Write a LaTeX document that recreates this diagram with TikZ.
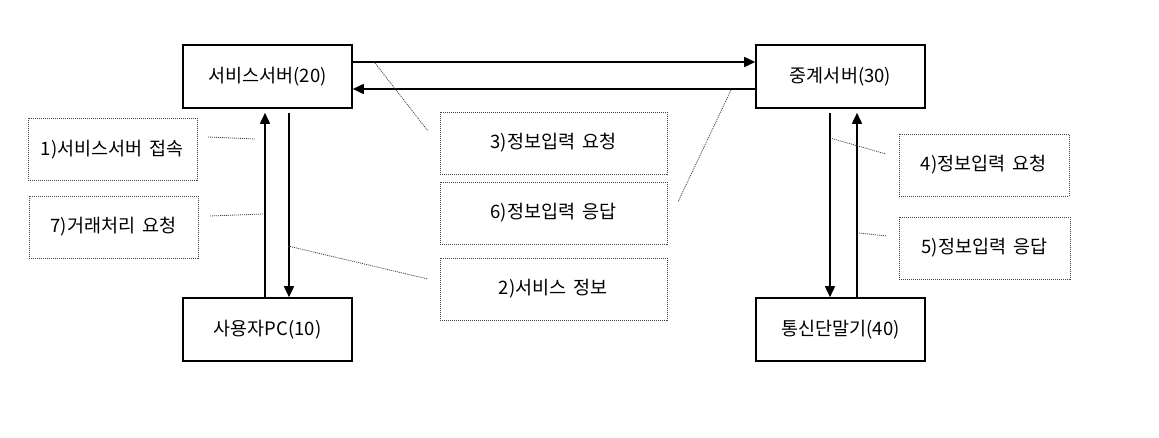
\documentclass[tikz,border=0pt]{standalone}
\usepackage{fontspec}
\setmainfont{Noto Sans CJK KR}
\usetikzlibrary{arrows.meta}
\newcommand{\gap}{\hspace{0.4em}}
\begin{document}
\begin{tikzpicture}[x=1pt,y=-1pt,
  mainbox/.style={draw=black,line width=1.6pt,minimum width=169pt,minimum height=63pt,inner sep=0pt,font=\fontsize{18.5}{20}\selectfont},
  labelbox/.style={draw=black!75,line width=0.8pt,dash pattern=on 1pt off 1pt,minimum height=62pt,inner sep=0pt,font=\fontsize{18.5}{20}\selectfont},
  arr/.style={line width=1.6pt,-{Triangle[length=11pt,width=10pt]}},
  leader/.style={draw=black!75,line width=0.8pt,dash pattern=on 1pt off 1pt}]
\useasboundingbox (0,0) rectangle (1159,438);
\node[mainbox] (s) at (267.5,76.5) {서비스서버(20)};
\node[mainbox] (r) at (840.5,76.5) {중계서버(30)};
\node[mainbox] (u) at (267.5,329.5) {사용자PC(10)};
\node[mainbox] (t) at (840.5,329.5) {통신단말기(40)};
\node[labelbox,minimum width=169pt] (l1) at (112.5,149.5) {1)서비스서버\gap 접속};
\node[labelbox,minimum width=169pt] (l7) at (113.5,227) {7)거래처리\gap 요청};
\node[labelbox,minimum width=227pt] (l3) at (553.5,143) {3)정보입력\gap 요청};
\node[labelbox,minimum width=227pt] (l6) at (553.5,213) {6)정보입력\gap 응답};
\node[labelbox,minimum width=227pt] (l2) at (553.5,289) {2)서비스\gap 정보};
\node[labelbox,minimum width=170pt] (l4) at (984,165) {4)정보입력\gap 요청};
\node[labelbox,minimum width=171pt] (l5) at (984.5,248) {5)정보입력\gap 응답};
% horizontal arrows
\draw[arr] (s.east|-0,62) -- (r.west|-0,62);
\draw[arr] (r.west|-0,89) -- (s.east|-0,89);
% left verticals
\draw[arr,shorten >=4pt] (u.north-|265,0) -- (s.south-|265,0);
\draw[arr,shorten <=4pt] (s.south-|289,0) -- (u.north-|289,0);
% right verticals
\draw[arr,shorten <=4pt] (r.south-|830,0) -- (t.north-|830,0);
\draw[arr,shorten >=4pt] (t.north-|857,0) -- (r.south-|857,0);
% leaders
\coordinate (a1) at (208,137); \coordinate (b1) at (255,139);
\coordinate (a7) at (210,216); \coordinate (b7) at (263,214);
\coordinate (a3) at (375,63);  \coordinate (b3) at (428,131);
\coordinate (a6) at (731,90);  \coordinate (b6) at (678,202);
\coordinate (a2) at (288,246); \coordinate (b2) at (428,279);
\coordinate (a4) at (830,138); \coordinate (b4) at (886,154);
\coordinate (a5) at (859,233); \coordinate (b5) at (887,236);
\draw[leader] (a1) -- (b1);
\draw[leader] (a7) -- (b7);
\draw[leader] (a3) -- (b3);
\draw[leader] (a6) -- (b6);
\draw[leader] (a2) -- (b2);
\draw[leader] (a4) -- (b4);
\draw[leader] (a5) -- (b5);
\end{tikzpicture}
\end{document}
